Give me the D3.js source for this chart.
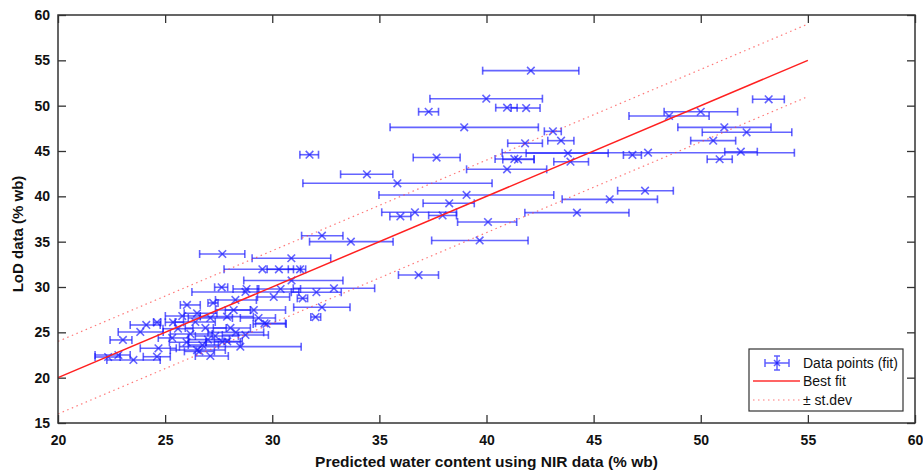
<!DOCTYPE html>
<html>
<head>
<meta charset="utf-8">
<script src="https://cdnjs.cloudflare.com/ajax/libs/d3/7.8.5/d3.min.js"></script>
<style>
body { margin: 0; background: #fff; }
text { font-family: "Liberation Sans", Arial, sans-serif; }
</style>
</head>
<body>
<script>
// data points (fit): predicted x, measured y, and x error bounds
var ptX  = [42.07,39.99,37.30,40.96,41.85,38.96,43.10,41.80,43.48,53.17,50.00,48.52,51.10,52.14,50.58,51.87,50.88,43.80,46.81,47.54,41.30,41.47,43.92,37.67,40.96,31.74,34.42,35.84,39.07,38.26,36.66,37.95,35.98,40.07,32.32,33.67,39.68,36.83,47.40,45.75,44.22,27.67,30.89,30.90,32.88,32.06,32.32,32.02,28.51,27.64,28.80,28.75,29.54,30.31,31.30,30.07,30.39,31.42,29.73,26.02,27.24,24.12,24.62,25.37,23.03,23.52,22.82,24.62,24.69,26.49,27.89,28.20,29.14,29.64,26.49,22.34,26.88,27.34,27.67,26.18,28.05,27.11,25.80,28.75,26.74,25.33,27.11,23.84,29.36,28.28,26.41,26.00,27.00,27.90,26.60,28.30,25.60];
var ptY  = [53.86,50.77,49.33,49.78,49.74,47.61,47.17,45.85,46.14,50.70,49.33,48.86,47.61,47.06,46.14,44.92,44.09,44.75,44.56,44.81,44.12,44.06,43.82,44.28,42.98,44.59,42.43,41.44,40.15,39.23,38.24,37.89,37.78,37.17,35.66,35.00,35.13,31.32,40.62,39.67,38.20,33.64,33.17,30.72,29.86,29.42,27.76,26.69,23.42,29.97,29.78,29.45,31.95,31.95,31.95,28.90,29.78,28.75,25.92,28.02,28.24,25.81,26.11,26.11,24.16,21.95,22.50,22.31,23.24,27.10,26.73,27.46,27.46,26.00,23.05,22.28,25.48,24.60,23.94,24.82,25.48,26.58,26.80,24.71,23.60,24.38,22.39,25.04,26.58,28.57,26.14,23.90,24.20,24.00,22.90,25.00,25.40];
var ptLo = [39.82,37.36,36.83,40.43,41.15,35.50,42.70,40.99,42.86,52.42,48.29,46.65,48.93,50.07,49.53,51.12,50.30,41.85,46.39,40.73,40.40,40.76,43.14,36.58,39.07,31.29,33.19,31.43,34.98,37.04,35.11,37.30,35.49,38.65,31.37,31.74,37.44,35.89,46.12,43.53,41.79,26.61,29.06,28.67,30.98,30.89,31.00,31.80,25.67,27.31,28.17,26.25,27.75,29.76,30.75,29.31,29.30,31.17,29.11,25.71,27.00,23.37,24.46,25.01,22.43,22.28,21.73,23.98,23.84,25.89,26.64,27.35,27.81,29.22,25.24,21.73,25.94,26.41,26.92,25.24,27.25,26.08,25.01,27.67,26.08,24.68,26.41,22.81,28.51,27.35,25.47,25.20,26.10,27.30,25.90,27.00,24.90];
var ptHi = [44.31,42.61,37.76,41.43,42.50,42.42,43.49,42.61,44.08,53.90,51.72,50.39,53.28,54.25,51.63,52.64,51.47,45.68,47.23,54.37,42.22,42.22,44.76,38.77,42.81,32.16,35.63,40.26,43.14,39.43,38.60,38.60,36.47,41.41,33.30,35.64,41.94,37.76,48.72,47.98,46.65,28.72,32.73,33.30,34.78,33.22,33.63,32.26,31.35,27.92,29.37,31.24,31.32,30.99,31.56,30.81,31.32,31.65,30.65,26.64,27.47,24.77,24.80,25.86,23.45,24.77,23.37,25.24,25.52,27.42,29.12,28.98,30.62,30.62,27.81,22.90,27.85,28.42,28.51,27.20,28.98,28.14,26.64,29.82,27.49,26.08,27.95,24.91,30.15,29.26,27.34,26.90,28.00,28.60,27.30,29.60,26.30];

// best fit line and +/- st.dev offset
var fitX = [20, 55];
var fitY = [20, 55];
var sdev = 4;

var xTicks = [20, 25, 30, 35, 40, 45, 50, 55, 60];
var yTicks = [15, 20, 25, 30, 35, 40, 45, 50, 55, 60];
var legendLabels = ["Data points (fit)", "Best fit", "\u00b1 st.dev"];

var w = 923, h = 473;
var plotL = 58, plotR = 915, plotT = 15, plotB = 423;

var svg = d3.select("body").append("svg")
  .attr("width", w)
  .attr("height", h);

var x = d3.scaleLinear().domain([20, 60]).range([plotL, plotR]);
var y = d3.scaleLinear().domain([15, 60]).range([plotB, plotT]);

var axisColor = "#333";

// axes, MATLAB style inward ticks on all sides
var gx = svg.append("g")
  .attr("transform", "translate(0," + plotB + ")")
  .call(d3.axisBottom(x).tickValues(xTicks).tickSizeInner(-8).tickSizeOuter(0).tickPadding(12));
var gy = svg.append("g")
  .attr("transform", "translate(" + plotL + ",0)")
  .call(d3.axisLeft(y).tickValues(yTicks).tickSizeInner(-8).tickSizeOuter(0).tickPadding(8));
var gt = svg.append("g")
  .attr("transform", "translate(0," + plotT + ")")
  .call(d3.axisTop(x).tickValues(xTicks).tickSizeInner(-8).tickSizeOuter(0).tickFormat(""));
var gr = svg.append("g")
  .attr("transform", "translate(" + plotR + ",0)")
  .call(d3.axisRight(y).tickValues(yTicks).tickSizeInner(-8).tickSizeOuter(0).tickFormat(""));

[gx, gy, gt, gr].forEach(function(g) {
  g.select(".domain").remove();
  g.selectAll("line").attr("stroke", axisColor).attr("stroke-width", 1.3);
  g.selectAll("text")
    .attr("fill", "#111")
    .style("font-size", "14px")
    .style("font-weight", "bold");
});

// error bars
var blue = "#1a1aff";
var pts = svg.append("g")
  .attr("stroke", blue)
  .attr("stroke-opacity", 0.68)
  .attr("stroke-width", 1.6)
  .attr("fill", "none");

ptX.forEach(function(d, i) {
  var cy = y(ptY[i]), x0 = x(ptLo[i]), x1 = x(ptHi[i]), cx = x(d);
  pts.append("line").attr("x1", x0).attr("x2", x1).attr("y1", cy).attr("y2", cy);
  pts.append("line").attr("x1", x0).attr("x2", x0).attr("y1", cy - 4).attr("y2", cy + 4);
  pts.append("line").attr("x1", x1).attr("x2", x1).attr("y1", cy - 4).attr("y2", cy + 4);
  pts.append("path").attr("d", "M" + (cx - 3.8) + "," + (cy - 3.8) + "l7.6,7.6M" + (cx - 3.8) + "," + (cy + 3.8) + "l7.6,-7.6");
});

// best fit and st.dev lines
var line = d3.line().x(function(d) { return x(d[0]); }).y(function(d) { return y(d[1]); });
var fitPts = fitX.map(function(d, i) { return [d, fitY[i]]; });

svg.append("path")
  .attr("d", line(fitPts.map(function(d) { return [d[0], d[1] + sdev]; })))
  .attr("fill", "none").attr("stroke", "#ff4040").attr("stroke-opacity", 0.7)
  .attr("stroke-width", 1.2).attr("stroke-dasharray", "1.5,3.5");
svg.append("path")
  .attr("d", line(fitPts.map(function(d) { return [d[0], d[1] - sdev]; })))
  .attr("fill", "none").attr("stroke", "#ff4040").attr("stroke-opacity", 0.7)
  .attr("stroke-width", 1.2).attr("stroke-dasharray", "1.5,3.5");
svg.append("path")
  .attr("d", line(fitPts))
  .attr("fill", "none").attr("stroke", "#ff2020").attr("stroke-width", 1.5);

// box
svg.append("rect")
  .attr("x", plotL).attr("y", plotT)
  .attr("width", plotR - plotL).attr("height", plotB - plotT)
  .attr("fill", "none").attr("stroke", axisColor).attr("stroke-width", 1.5);

// axis titles
svg.append("text")
  .attr("x", (plotL + plotR) / 2).attr("y", 467)
  .attr("text-anchor", "middle")
  .style("font-size", "15.5px").style("font-weight", "bold").attr("fill", "#111")
  .text("Predicted water content using NIR data (% wb)");

svg.append("text")
  .attr("transform", "translate(23,234) rotate(-90)")
  .attr("text-anchor", "middle")
  .style("font-size", "15px").style("font-weight", "bold").attr("fill", "#111")
  .text("LoD data (% wb)");

// legend
var lg = svg.append("g");
lg.append("rect")
  .attr("x", 749).attr("y", 349).attr("width", 154).attr("height", 62)
  .attr("fill", "#fff").attr("stroke", axisColor).attr("stroke-width", 1.2);

var ly = [363, 381, 400];
var ic = lg.append("g").attr("stroke", blue).attr("stroke-opacity", 0.7).attr("stroke-width", 1.5).attr("fill", "none");
ic.append("path").attr("d", "M765," + ly[0] + "H789M765," + (ly[0] - 4) + "V" + (ly[0] + 4) + "M789," + (ly[0] - 4) + "V" + (ly[0] + 4));
ic.append("path").attr("d", "M777," + (ly[0] - 7) + "V" + (ly[0] + 7) + "M774," + (ly[0] - 7) + "H780M774," + (ly[0] + 7) + "H780");
ic.append("path").attr("d", "M774," + (ly[0] - 3) + "l6,6M774," + (ly[0] + 3) + "l6,-6");

lg.append("line").attr("x1", 753).attr("x2", 800).attr("y1", ly[1]).attr("y2", ly[1])
  .attr("stroke", "#ff3030").attr("stroke-width", 1.5);
lg.append("line").attr("x1", 753).attr("x2", 800).attr("y1", ly[2]).attr("y2", ly[2])
  .attr("stroke", "#ff4040").attr("stroke-opacity", 0.7).attr("stroke-width", 1.2).attr("stroke-dasharray", "1.5,3.5");

legendLabels.forEach(function(t, i) {
  lg.append("text")
    .attr("x", 803).attr("y", ly[i]).attr("dy", "0.35em")
    .style("font-size", "14px").attr("fill", "#111")
    .text(t);
});
</script>
</body>
</html>
